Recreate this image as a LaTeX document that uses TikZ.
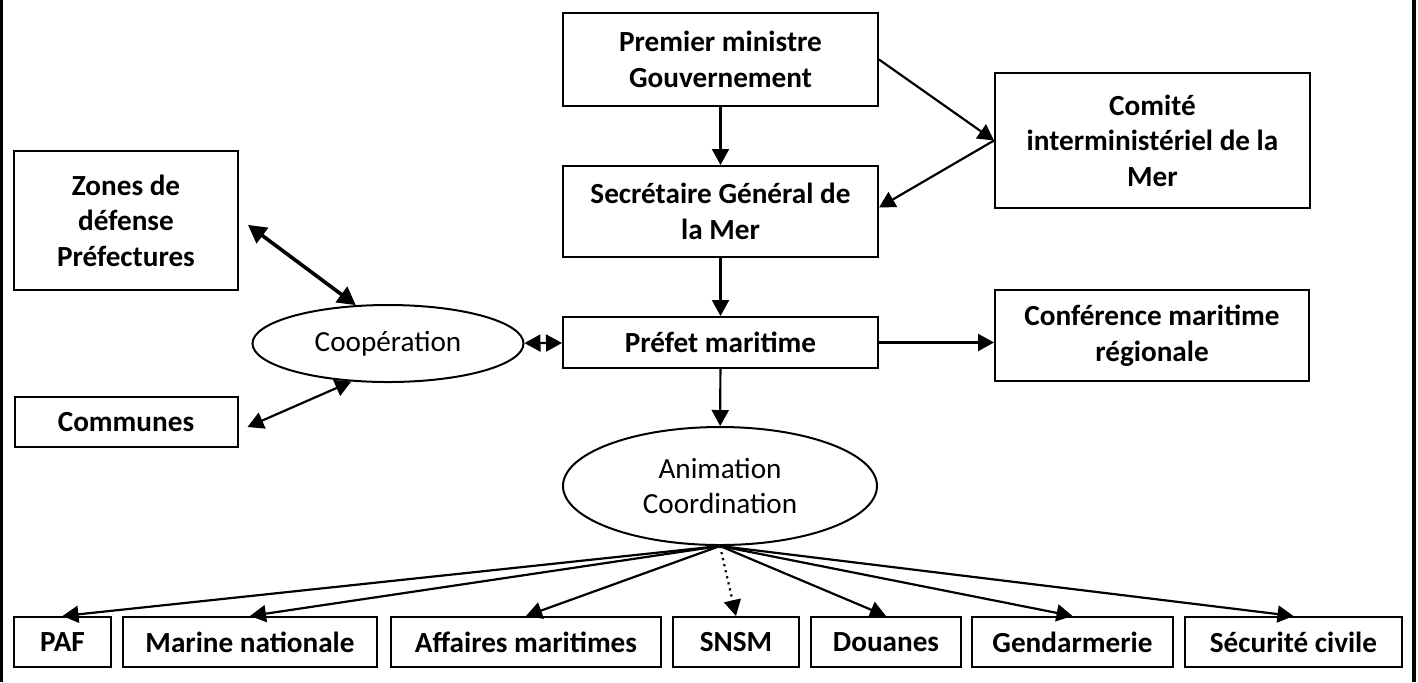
\documentclass[tikz,border=0pt]{standalone}
\usepackage{fontspec}
\setmainfont{Carlito}
\usepackage{tikz}
\usetikzlibrary{arrows.meta,positioning,shapes}

\begin{document}
\begin{tikzpicture}[x=0.5pt, y=-0.5pt,
    font=\fontsize{14.6}{17.8}\selectfont,
    box/.style={draw, line width=1pt, align=center, font=\fontsize{14.6}{17.8}\selectfont\bfseries, inner sep=0pt},
    bubble/.style={draw, ellipse, line width=1pt, align=center, inner sep=0pt},
    link/.style={line width=1.1pt, -{Triangle[length=8pt,width=8.5pt]}},
    both/.style={line width=1.1pt, {Triangle[length=8pt,width=8.5pt]}-{Triangle[length=8pt,width=8.5pt]}}]
  \useasboundingbox (0,0) rectangle (1418,682);

  % page frame
  \draw[line width=1.5pt] (1.5,0) -- (1.5,682);
  \draw[line width=2pt] (1414,0) -- (1414,682);

  % central column
  \node[box, minimum width=157.5pt, minimum height=46.5pt] (pm) at (720.5,59.5) {Premier ministre\\Gouvernement};
  \node[box, minimum width=157.5pt, minimum height=45.5pt] (sgm) at (720.5,211.5) {Secrétaire Général de\\la Mer};
  \node[box, minimum width=157.5pt, minimum height=25.5pt] (pref) at (720.5,342.5) {Préfet maritime};
  \node[bubble, minimum width=157pt, minimum height=59pt] (anim) at (720,486) {Animation\\Coordination};

  % right column
  \node[box, minimum width=157.5pt, minimum height=67.5pt] (cim) at (1152.5,140.5) {Comité\\interministériel de la\\Mer};
  \node[box, minimum width=157pt, minimum height=45.5pt] (cmr) at (1152,335.5) {Conférence maritime\\régionale};

  % left column
  \node[box, minimum width=112pt, minimum height=69.5pt] (zones) at (126,220.5) {Zones de\\défense\\Préfectures};
  \node[box, minimum width=111.5pt, minimum height=25pt] (communes) at (126,422) {Communes};
  \node[bubble, minimum width=135.5pt, minimum height=38.5pt] (coop) at (388,343.5) {Coopération};

  % services
  \node[box, minimum width=48.5pt, minimum height=25pt] (paf) at (62.5,642) {PAF};
  \node[box, minimum width=127pt, minimum height=25pt] (marine) at (250,642) {Marine nationale};
  \node[box, minimum width=135pt, minimum height=25pt] (affmar) at (526,642) {Affaires maritimes};
  \node[box, minimum width=63pt, minimum height=25pt] (snsm) at (736,642) {SNSM};
  \node[box, minimum width=75pt, minimum height=25pt] (douanes) at (886,642) {Douanes};
  \node[box, minimum width=100.5pt, minimum height=25pt] (gend) at (1072.5,642) {Gendarmerie};
  \node[box, minimum width=108.5pt, minimum height=25pt] (secciv) at (1293.5,642) {Sécurité civile};

  % links
  \draw[link] (pm) -- (sgm);
  \draw[link] (pm.east) -- (cim.west);
  \draw[link] (cim.west) -- ([yshift=2pt]sgm.east);
  \draw[link] (sgm) -- (pref);
  \draw[link] (pref) -- (anim);
  \draw[link] (pref.east) -- (pref.east -| cmr.west);
  \draw[both] (coop) -- (pref);
  \draw[line width=1.8pt, {Triangle[length=9pt,width=9.5pt]}-{Triangle[length=9pt,width=9.5pt]}]
    ([xshift=4.5pt,yshift=-2.2pt]zones.east) -- (coop.130);
  \draw[both] ([xshift=4.5pt,yshift=-2.5pt]communes.east) -- (coop.226);

  \foreach \s in {paf,marine,affmar,douanes,gend,secciv}
    \draw[link] (anim.south) -- (\s.north);
  \draw[link, dotted] (anim.south) -- (snsm.north);
\end{tikzpicture}
\end{document}
